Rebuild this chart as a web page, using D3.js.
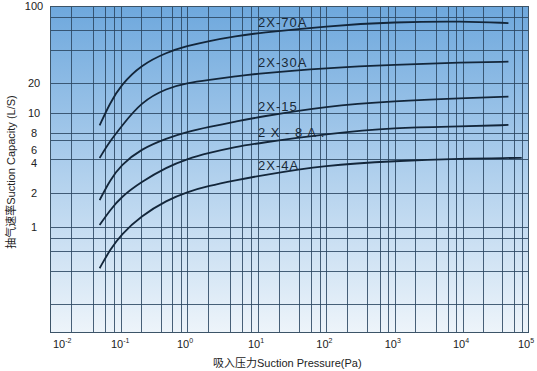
<!DOCTYPE html>
<html>
<head>
<meta charset="utf-8">
<script src="https://cdn.jsdelivr.net/npm/d3@7"></script>
<style>
body { margin: 0; background: #fff; }
svg { display: block; font-family: "Liberation Sans", Arial, "Noto Sans CJK SC", sans-serif; }
</style>
</head>
<body>
<div id="chart"></div>
<script>
// suction pressure (Pa) where the curves were read
var pressure = [0.05, 0.07, 0.1, 0.2, 0.5, 1, 2, 5, 10, 100, 1000, 10000, 50000, 80000];

// suction capacity (L/S) per pump model
var pump70A = [8.7, 12.6, 19.1, 29.1, 38.2, 43.3, 48.1, 53.4, 56.8, 65.8, 71.6, 72.9, 70, null];
var pump30A = [4.09, 5.87, 8.55, 12.9, 17.8, 20, 21.3, 23, 24.4, 27.4, 29.4, 30.7, 31.2, null];
var pump15  = [1.73, 2.6, 3.54, 4.95, 6.5, 8.1, 8.55, 9.1, 9.55, 11.75, 13.2, 14.1, 14.6, null];
var pump8A  = [1.04, 1.41, 1.84, 2.5, 3.4, 4.0, 4.54, 5.2, 5.6, 7.7, 8.5, 8.6, 8.75, null];
var pump4A  = [0.42, 0.62, 0.85, 1.25, 1.73, 2.04, 2.31, 2.6, 2.83, 3.54, 3.84, 4.04, 4.09, 4.1];

var seriesNames = ["2X-70A", "2X-30A", "2X-15", "2 X - 8 A .", "2X-4A"];
var seriesValues = [pump70A, pump30A, pump15, pump8A, pump4A];

var xTickExp = [-2, -1, 0, 1, 2, 3, 4, 5];
var yTickLabels = ["100", "20", "10", "8", "6", "4", "2", "1"];
// where each printed label sits on the (unevenly ruled) axis
var yTickAt = [100, 20, 10, 8, 4.8, 3.7, 2, 1];
var yGridValues = [80, 60, 40, 20, 10, 8, 6, 4, 2, 1, 0.8, 0.6, 0.4, 0.2];
var xMinorSteps = [1, 2, 4, 6, 8];

var W = 537, H = 371;
var box = {left: 50, right: 528, top: 6, bottom: 332};

var svg = d3.select("#chart").append("svg")
    .attr("width", W)
    .attr("height", H);

// the printed graph paper is not evenly ruled, so both scales are piecewise log
var x = d3.scaleLog()
    .domain([0.01, 0.1, 1, 10, 1e4, 1e5])
    .range([box.left, 121, 187, 258, 463, box.right]);

var y = d3.scaleLog()
    .domain([0.11, 1, 4, 6, 8, 10, 20, 100])
    .range([box.bottom, 227, 159, 140, 133, 113, 83, box.top]);

var grad = svg.append("defs").append("linearGradient")
    .attr("id", "bg")
    .attr("x1", 0).attr("y1", 0).attr("x2", 0).attr("y2", 1);
grad.append("stop").attr("offset", "0%").attr("stop-color", "#6ea8dd");
grad.append("stop").attr("offset", "45%").attr("stop-color", "#a8cbeb");
grad.append("stop").attr("offset", "100%").attr("stop-color", "#edf4fa");

svg.append("rect")
    .attr("x", box.left)
    .attr("y", box.top)
    .attr("width", box.right - box.left)
    .attr("height", box.bottom - box.top)
    .attr("fill", "url(#bg)");

// vertical rules
var xLines = [];
for (var e = -2; e < 5; e++) {
  xMinorSteps.forEach(function(s) { xLines.push(s * Math.pow(10, e)); });
}
xLines.push(1e5);

var grid = svg.append("g")
    .attr("stroke", "#2a4560")
    .attr("stroke-opacity", 0.85)
    .attr("stroke-width", 1);

grid.selectAll("line.v")
  .data(xLines)
  .enter().append("line")
    .attr("class", "v")
    .attr("x1", function(d) { return Math.round(x(d)) + 0.5; })
    .attr("x2", function(d) { return Math.round(x(d)) + 0.5; })
    .attr("y1", box.top)
    .attr("y2", box.bottom);

grid.selectAll("line.h")
  .data(yGridValues)
  .enter().append("line")
    .attr("class", "h")
    .attr("x1", box.left)
    .attr("x2", box.right)
    .attr("y1", function(d) { return Math.round(y(d)) + 0.5; })
    .attr("y2", function(d) { return Math.round(y(d)) + 0.5; });

svg.append("rect")
    .attr("x", box.left + 0.5)
    .attr("y", box.top + 0.5)
    .attr("width", box.right - box.left)
    .attr("height", box.bottom - box.top)
    .attr("fill", "none")
    .attr("stroke", "#3c5468")
    .attr("stroke-width", 1);

// curves
var line = d3.line()
    .defined(function(d) { return d[1] != null; })
    .x(function(d) { return x(d[0]); })
    .y(function(d) { return y(d[1]); })
    .curve(d3.curveBasis);

seriesValues.forEach(function(vals, i) {
  var pts = pressure.map(function(p, j) { return [p, vals[j]]; });
  svg.append("path")
      .attr("d", line(pts))
      .attr("fill", "none")
      .attr("stroke", "#13263a")
      .attr("stroke-width", 1.8);

  // name sits just above the curve at 10 Pa
  var at10 = vals[pressure.indexOf(10)];
  svg.append("text")
      .attr("x", x(10))
      .attr("y", y(at10) - 6)
      .attr("font-size", 13)
      .attr("letter-spacing", 1)
      .attr("fill", "#1a2a38")
      .text(seriesNames[i]);
});

// x tick labels
var xt = svg.append("g").attr("fill", "#222").attr("font-size", 11);
xTickExp.forEach(function(ex) {
  var t = xt.append("text")
      .attr("x", Math.max(x(Math.pow(10, ex)) - 10, box.left + 3))
      .attr("y", 348);
  t.append("tspan").text("10");
  t.append("tspan").attr("dy", -5).attr("font-size", 7).text(ex);
});

// y tick labels
svg.append("g").attr("fill", "#222").attr("font-size", 11)
  .selectAll("text")
  .data(yTickLabels)
  .enter().append("text")
    .attr("x", 34)
    .attr("y", function(d, i) { return Math.max(y(yTickAt[i]) + 4, 9); })
    .attr("text-anchor", "middle")
    .text(function(d) { return d; });

// axis titles
svg.append("text")
    .attr("x", 213)
    .attr("y", 367)
    .attr("font-size", 11)
    .attr("fill", "#222")
    .text("吸入压力Suction Pressure(Pa)");

svg.append("text")
    .attr("transform", "translate(15,172) rotate(-90)")
    .attr("text-anchor", "middle")
    .attr("font-size", 11)
    .attr("fill", "#222")
    .text("抽气速率Suction Capacity (L/S)");
</script>
</body>
</html>
